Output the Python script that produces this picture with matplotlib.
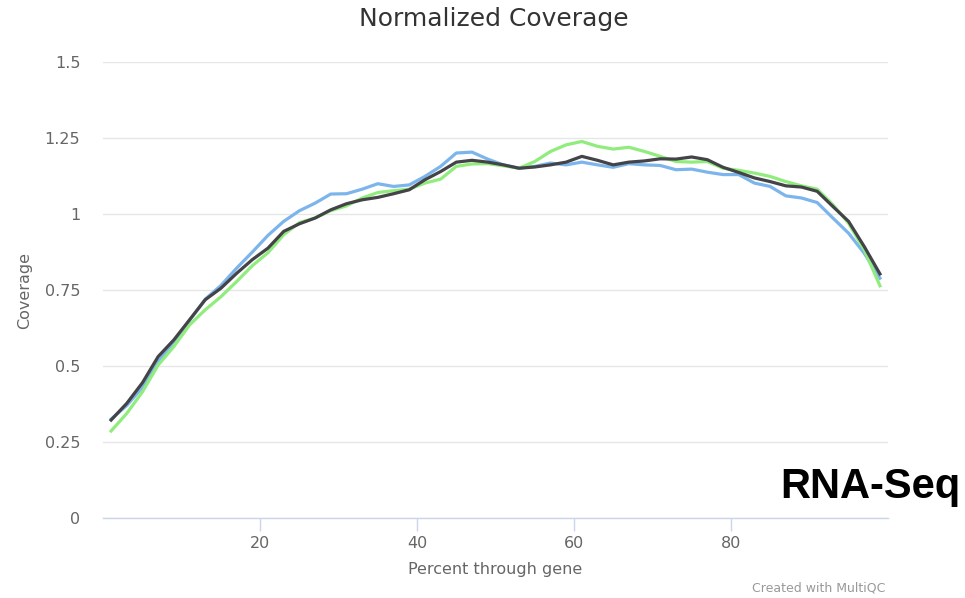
"""
Normalized gene body coverage (MultiQC style) - RNA-Seq
"""

import numpy as np
import matplotlib
matplotlib.use('Agg')
import matplotlib.pyplot as plt

plt.rcParams['font.family'] = ['DejaVu Sans']

# ==================== data ====================

# percent through gene (every 2 %)
pct = list(range(1, 100, 2))

cov_blue = [0.325, 0.370, 0.430, 0.515, 0.580, 0.650, 0.720, 0.765, 0.822, 0.875,
            0.930, 0.976, 1.011, 1.036, 1.066, 1.067, 1.082, 1.100, 1.091, 1.096,
            1.124, 1.157, 1.201, 1.204, 1.181, 1.162, 1.151, 1.157, 1.168, 1.162,
            1.171, 1.162, 1.154, 1.166, 1.162, 1.160, 1.146, 1.148, 1.138, 1.130,
            1.130, 1.102, 1.091, 1.060, 1.053, 1.038, 0.987, 0.937, 0.871, 0.789]

cov_dark = [0.322, 0.377, 0.445, 0.531, 0.586, 0.652, 0.718, 0.756, 0.805, 0.850,
            0.888, 0.943, 0.968, 0.987, 1.014, 1.034, 1.047, 1.055, 1.067, 1.080,
            1.113, 1.140, 1.171, 1.177, 1.171, 1.162, 1.151, 1.155, 1.162, 1.171,
            1.190, 1.177, 1.162, 1.171, 1.175, 1.182, 1.181, 1.188, 1.179, 1.154,
            1.137, 1.119, 1.107, 1.093, 1.089, 1.075, 1.025, 0.976, 0.893, 0.803]

cov_green = [0.286, 0.344, 0.415, 0.503, 0.564, 0.635, 0.685, 0.728, 0.778, 0.830,
             0.873, 0.932, 0.972, 0.987, 1.011, 1.027, 1.053, 1.071, 1.077, 1.082,
             1.102, 1.115, 1.157, 1.165, 1.166, 1.159, 1.151, 1.173, 1.206, 1.228,
             1.239, 1.223, 1.214, 1.220, 1.206, 1.190, 1.173, 1.171, 1.173, 1.151,
             1.144, 1.135, 1.124, 1.107, 1.093, 1.082, 1.031, 0.970, 0.882, 0.764]

y_ticks = [0, 0.25, 0.5, 0.75, 1, 1.25, 1.5]
y_ticklabels = ['0', '0.25', '0.5', '0.75', '1', '1.25', '1.5']
x_ticks = [20, 40, 60, 80]

# ==================== plot ====================

fig = plt.figure(figsize=(9.65, 5.98), dpi=100)
ax = fig.add_axes([0.107, 0.134, 0.813, 0.762])

ax.plot(pct, cov_blue, color='#7cb5ec', lw=2.3, solid_joinstyle='round', zorder=3)
ax.plot(pct, cov_green, color='#90ed7d', lw=2.3, solid_joinstyle='round', zorder=4)
ax.plot(pct, cov_dark, color='#434348', lw=2.3, solid_joinstyle='round', zorder=5)

ax.set_xlim(0, 100)
ax.set_ylim(0, 1.5)

ax.set_yticks(y_ticks)
ax.set_yticklabels(y_ticklabels)
ax.set_xticks(x_ticks)

ax.grid(axis='y', color='#e6e6e6', lw=1.0, zorder=0)
for side in ['top', 'right', 'left']:
    ax.spines[side].set_visible(False)
ax.spines['bottom'].set_color('#ccd6eb')
ax.spines['bottom'].set_linewidth(1.0)

ax.tick_params(axis='y', length=0, pad=16.5, labelsize=11.5, labelcolor='#666666')
ax.tick_params(axis='x', length=9, width=1.0, color='#ccd6eb', pad=4,
               labelsize=11.5, labelcolor='#666666')

ax.set_xlabel('Percent through gene', fontsize=11.5, color='#666666', labelpad=8)
ax.set_ylabel('Coverage', fontsize=11.5, color='#666666', labelpad=9)

fig.text(0.512, 0.968, 'Normalized Coverage', ha='center', va='center',
         fontsize=18, color='#333333')
fig.text(0.917, 0.017, 'Created with MultiQC', ha='right', va='center',
         fontsize=9, color='#999999')
fig.text(0.995, 0.185, 'RNA-Seq', ha='right', va='center', fontsize=30,
         fontweight='bold', color='black', family=['Liberation Sans', 'DejaVu Sans'])

plt.savefig('out.png', dpi=100)
plt.close()
